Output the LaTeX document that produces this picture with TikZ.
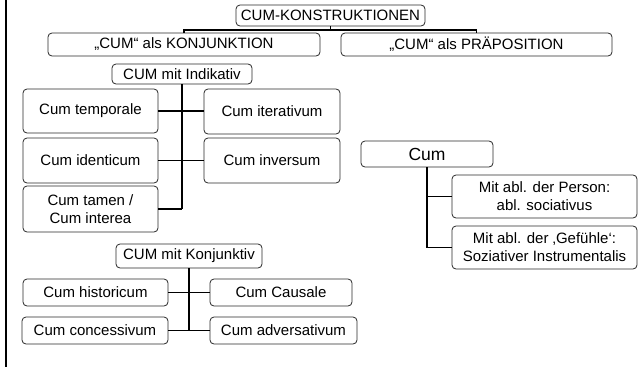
\documentclass[tikz,border=0pt]{standalone}
\usepackage{fontspec}
\setmainfont{Liberation Sans}
\usepackage{tikz}
\usetikzlibrary{positioning}
\definecolor{BoxLine}{RGB}{40,40,40}
\tikzset{
  cbox/.style={draw=BoxLine, line width=0.8pt, fill=white, rounded corners=4pt, inner sep=1pt,
    align=center, font=\fontsize{15}{18}\selectfont},
  trunk/.style={line width=2.6pt, black},
  branch/.style={line width=1.4pt, black},
  topline/.style={line width=1.5pt, black},
}

\begin{document}
\begin{tikzpicture}[x=1pt, y=-1pt]
  \useasboundingbox (0,0) rectangle (638,367);
  \draw[line width=2.4pt] (6,0) -- (6,367);
  % head and the two kinds
  \node[cbox, minimum width=189pt, minimum height=21pt] (kons) at (330.5,15.5) {CUM-KONSTRUKTIONEN};
  \node[cbox, minimum width=272pt, minimum height=23pt] (konj) at (184,44.5) {„CUM“ als KONJUNKTION};
  \node[cbox, minimum width=271pt, minimum height=23pt] (praep) at (476.5,44.5) {„CUM“ als PRÄPOSITION};
  \coordinate (split) at (330.5,30);
  \draw[topline] (kons) -- (split);
  \draw[topline] (konj.north) |- (split) -| (praep.north);
  % indikativ
  \node[cbox, minimum width=140pt, minimum height=20pt] (ind) at (182,74) {CUM mit Indikativ};
  \node[cbox, minimum width=135pt, minimum height=44pt] (temp) at (90.5,111) {Cum temporale};
  \node[cbox, minimum width=135pt, minimum height=45pt] (ident) at (90.5,160.5) {Cum identicum};
  \node[cbox, minimum width=135pt, minimum height=46pt] (tamen) at (90.5,209) {Cum tamen /\\Cum interea};
  \node[cbox, minimum width=136pt, minimum height=45pt] (iter) at (272,111.5) {Cum iterativum};
  \node[cbox, minimum width=136pt, minimum height=45pt] (inv) at (272,160.5) {Cum inversum};
  \draw[trunk] (ind.south) -- (ind.south |- tamen.east);
  \draw[branch] (temp.east) -- (temp.east -| iter.west);
  \draw[branch] (ident.east) -- (ident.east -| inv.west);
  \draw[branch] (tamen.east) -- (tamen.east -| ind.south);
  % konjunktiv
  \node[cbox, minimum width=146pt, minimum height=24pt] (konjv) at (189,256) {CUM mit Konjunktiv};
  \node[cbox, minimum width=145pt, minimum height=27pt] (hist) at (95.5,292.5) {Cum historicum};
  \node[cbox, minimum width=146pt, minimum height=27pt] (conc) at (95,330.5) {Cum concessivum};
  \node[cbox, minimum width=142pt, minimum height=27pt] (caus) at (281,292.5) {Cum Causale};
  \node[cbox, minimum width=147pt, minimum height=27pt] (adv) at (283.5,330.5) {Cum adversativum};
  \draw[trunk] (konjv.south) -- (konjv.south |- conc.east);
  \draw[branch] (hist.east) -- (hist.east -| caus.west);
  \draw[branch] (conc.east) -- (conc.east -| adv.west);
  % praeposition
  \node[cbox, minimum width=132pt, minimum height=26pt, font=\fontsize{17.5}{20}\selectfont] (cum) at (427,154) {Cum};
  \node[cbox, minimum width=185pt, minimum height=43pt] (pers) at (544.5,196.5) {Mit abl. der Person:\\abl. sociativus};
  \node[cbox, minimum width=185pt, minimum height=43pt] (gef) at (544.5,247.5) {Mit abl. der ‚Gefühle‘:\\Soziativer Instrumentalis};
  \draw[trunk] (cum.south) -- (cum.south |- gef.west);
  \draw[branch] (pers.west) -- (pers.west -| cum.south);
  \draw[branch] (gef.west) -- (gef.west -| cum.south);
\end{tikzpicture}
\end{document}
